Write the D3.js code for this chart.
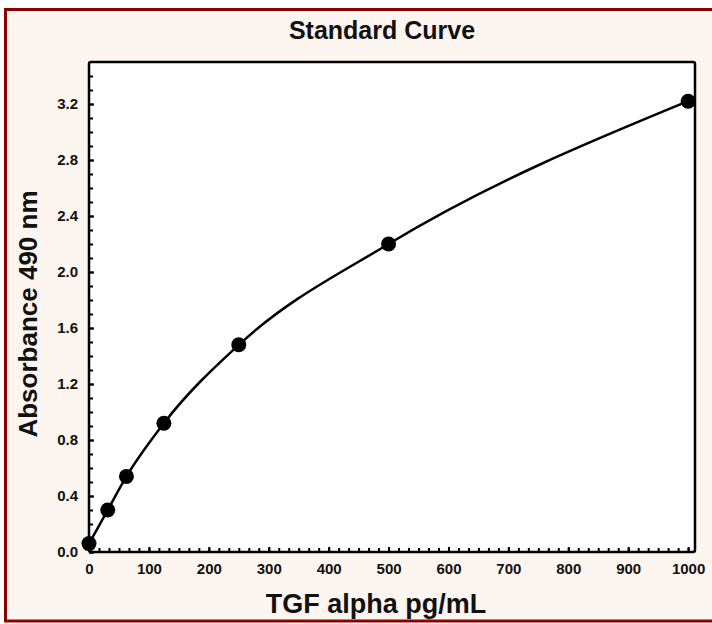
<!DOCTYPE html>
<html>
<head>
<meta charset="utf-8">
<script src="https://cdn.jsdelivr.net/npm/d3@7"></script>
<style>
html,body{margin:0;padding:0;background:#fff;}
text{font-family:"Liberation Sans",Arial,sans-serif;font-weight:bold;fill:#111;}
</style>
</head>
<body>
<svg id="chart" width="712" height="624"></svg>
<script>
const concentrations = [0, 31.25, 62.5, 125, 250, 500, 1000];
const absorbance = [0.06, 0.30, 0.54, 0.92, 1.48, 2.20, 3.22];
const xTickValues = [0, 100, 200, 300, 400, 500, 600, 700, 800, 900, 1000];
const yTickValues = [0.0, 0.4, 0.8, 1.2, 1.6, 2.0, 2.4, 2.8, 3.2];
const titleText = "Standard Curve";
const xLabel = "TGF alpha pg/mL";
const yLabel = "Absorbance 490 nm";

const svg = d3.select("#chart");
const L = 89, R = 695, T = 62, B = 552;

// outer frame
svg.append("rect").attr("x", 5.5).attr("y", 9.5).attr("width", 740).attr("height", 611.5)
  .attr("fill", "#fdf5ef").attr("stroke", "#8b0000").attr("stroke-width", 3);

const x = d3.scaleLinear().domain([0, 1011.5]).range([L, R]);
const y = d3.scaleLinear().domain([0, 3.5]).range([B, T]);

// plot area
svg.append("rect").attr("x", L).attr("y", T).attr("width", R - L).attr("height", B - T)
  .attr("fill", "#fff");

// minor ticks
const xMinor = d3.range(0, 1001, 100 / 6).map(v => Math.round(v * 1000) / 1000);
const yMinor = d3.range(0, 3.45, 0.1).map(v => Math.round(v * 10) / 10);

const gx = svg.append("g").attr("transform", `translate(0,${B})`)
  .call(d3.axisBottom(x).tickValues(xMinor).tickSize(-4).tickFormat(""));
gx.select(".domain").remove();
gx.selectAll("line").attr("stroke", "#000").attr("stroke-width", 2);
const gx2 = svg.append("g").attr("transform", `translate(0,${B})`)
  .call(d3.axisBottom(x).tickValues(xTickValues).tickSize(-5).tickPadding(11).tickFormat(d3.format("d")));
gx2.select(".domain").remove();
gx2.selectAll("line").attr("stroke", "#000").attr("stroke-width", 2);
gx2.selectAll("text").attr("font-size", 15).attr("fill", "#111")
  .attr("font-family", "Liberation Sans, Arial, sans-serif").attr("font-weight", "bold");

const gy = svg.append("g").attr("transform", `translate(${L},0)`)
  .call(d3.axisLeft(y).tickValues(yMinor).tickSize(-4).tickFormat(""));
gy.select(".domain").remove();
gy.selectAll("line").attr("stroke", "#000").attr("stroke-width", 2);
const gy2 = svg.append("g").attr("transform", `translate(${L},0)`)
  .call(d3.axisLeft(y).tickValues(yTickValues).tickSize(-5).tickPadding(11).tickFormat(d3.format(".1f")));
gy2.select(".domain").remove();
gy2.selectAll("line").attr("stroke", "#000").attr("stroke-width", 2);
gy2.selectAll("text").attr("font-size", 15).attr("fill", "#111")
  .attr("font-family", "Liberation Sans, Arial, sans-serif").attr("font-weight", "bold");

// plot border
svg.append("rect").attr("x", L).attr("y", T).attr("width", R - L).attr("height", B - T)
  .attr("fill", "none").attr("stroke", "#000").attr("stroke-width", 2.5).attr("rx", 2);

const data = concentrations.map((c, i) => ({c, a: absorbance[i]}));

// curve
svg.append("path").datum(data)
  .attr("d", d3.line().x(d => x(d.c)).y(d => y(d.a)).curve(d3.curveMonotoneX))
  .attr("fill", "none").attr("stroke", "#000").attr("stroke-width", 2.5);

// points
svg.selectAll("circle.pt").data(data).join("circle").attr("class", "pt")
  .attr("cx", d => x(d.c)).attr("cy", d => y(d.a)).attr("r", 7.5).attr("fill", "#000");

// titles
svg.append("text").attr("x", 382).attr("y", 39).attr("text-anchor", "middle")
  .attr("font-size", 25).text(titleText);
svg.append("text").attr("x", 376).attr("y", 613).attr("text-anchor", "middle")
  .attr("font-size", 27).text(xLabel);
svg.append("text").attr("transform", "translate(37,314) rotate(-90)").attr("text-anchor", "middle")
  .attr("font-size", 26).text(yLabel);
</script>
</body>
</html>
